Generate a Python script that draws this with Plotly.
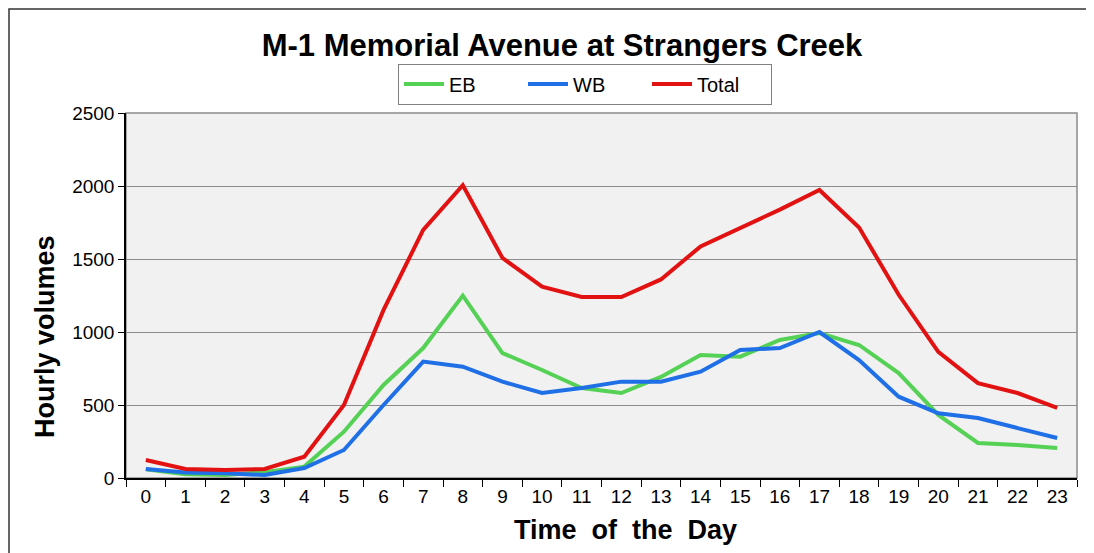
import plotly.graph_objects as go

hours = [str(h) for h in range(24)]
eb = [60, 25, 20, 40, 78, 317, 637, 890, 1249, 856, 740, 616, 582, 692, 842, 831, 945, 993, 911, 719, 432, 240, 226, 205]
wb = [62, 37, 32, 20, 68, 192, 500, 797, 762, 660, 582, 616, 660, 660, 728, 877, 890, 1000, 808, 557, 443, 411, 342, 274]
total = [123, 62, 55, 62, 146, 500, 1151, 1699, 2005, 1507, 1310, 1240, 1240, 1360, 1586, 1710, 1838, 1973, 1716, 1255, 864, 650, 582, 480]

series = [("EB", eb, "#55D155"), ("WB", wb, "#1F6FE6"), ("Total", total, "#E31212")]

fig = go.Figure()
for name, vals, col in series:
    fig.add_trace(go.Scatter(x=hours, y=vals, name=name, mode="lines",
                             line=dict(color=col, width=4)))

OFF = 8  # browser body margin
W, H = 1094 - OFF, 553 - OFF
L, R, T, B = 126 - OFF, 1077 - OFF, 113 - OFF, 478 - OFF

def px(x):  # page x -> paper
    return (x - OFF - L) / (R - L)

def py(y):  # page y -> paper
    return (B - (y - OFF)) / (B - T)

def cx(x):  # page x -> container
    return (x - OFF) / W

def cy(y):  # page y -> container
    return 1 - (y - OFF) / H

fig.update_layout(
    width=W, height=H,
    margin=dict(l=L, r=W - R, t=T, b=H - B),
    paper_bgcolor="white",
    plot_bgcolor="#F1F1F1",
    font=dict(family="Liberation Sans, Arial, sans-serif", color="black"),
    title=dict(text="<b>M-1 Memorial Avenue at Strangers Creek</b>",
               xref="container", x=cx(562), xanchor="center",
               yref="container", y=cy(45), yanchor="middle",
               font=dict(size=31, color="black")),
    legend=dict(orientation="h", x=px(585), xanchor="center", y=py(84), yanchor="middle",
                bgcolor="white", bordercolor="#808080", borderwidth=1,
                font=dict(size=20, color="black"), itemwidth=40,
                entrywidth=69, entrywidthmode="pixels"),
    showlegend=True,
    xaxis=dict(type="category", tickson="boundaries", ticks="outside", ticklen=7,
               tickcolor="black", showline=True, linecolor="black", linewidth=1.5,
               showgrid=False, tickfont=dict(size=19), range=[-0.5, 23.5]),
    yaxis=dict(range=[0, 2500], dtick=500, ticks="outside", ticklen=6, tickcolor="black",
               showline=True, linecolor="black", linewidth=1.5,
               showgrid=True, gridcolor="#8C8C8C", gridwidth=1.2,
               tickfont=dict(size=19), zeroline=False),
    annotations=[
        dict(text="<b>Time  of  the  Day</b>", xref="paper", yref="paper",
             x=px(625), y=py(530), xanchor="center", yanchor="middle",
             showarrow=False, font=dict(size=27, color="black")),
        dict(text="<b>Hourly volumes</b>", xref="paper", yref="paper",
             x=px(45), y=py(337), xanchor="center", yanchor="middle", textangle=-90,
             showarrow=False, font=dict(size=27, color="black")),
    ],
)

# gray frame around plot area
fig.add_shape(type="rect", xref="paper", yref="paper", x0=0, x1=1, y0=0, y1=1,
              line=dict(color="#8C8C8C", width=1.5), layer="below")
# outer chart border
fig.add_shape(type="rect", xref="paper", yref="paper",
              x0=px(OFF + 1), x1=px(1090), y0=py(570), y1=py(OFF + 1),
              line=dict(color="#333333", width=1.5))

fig.write_html("out.html")
